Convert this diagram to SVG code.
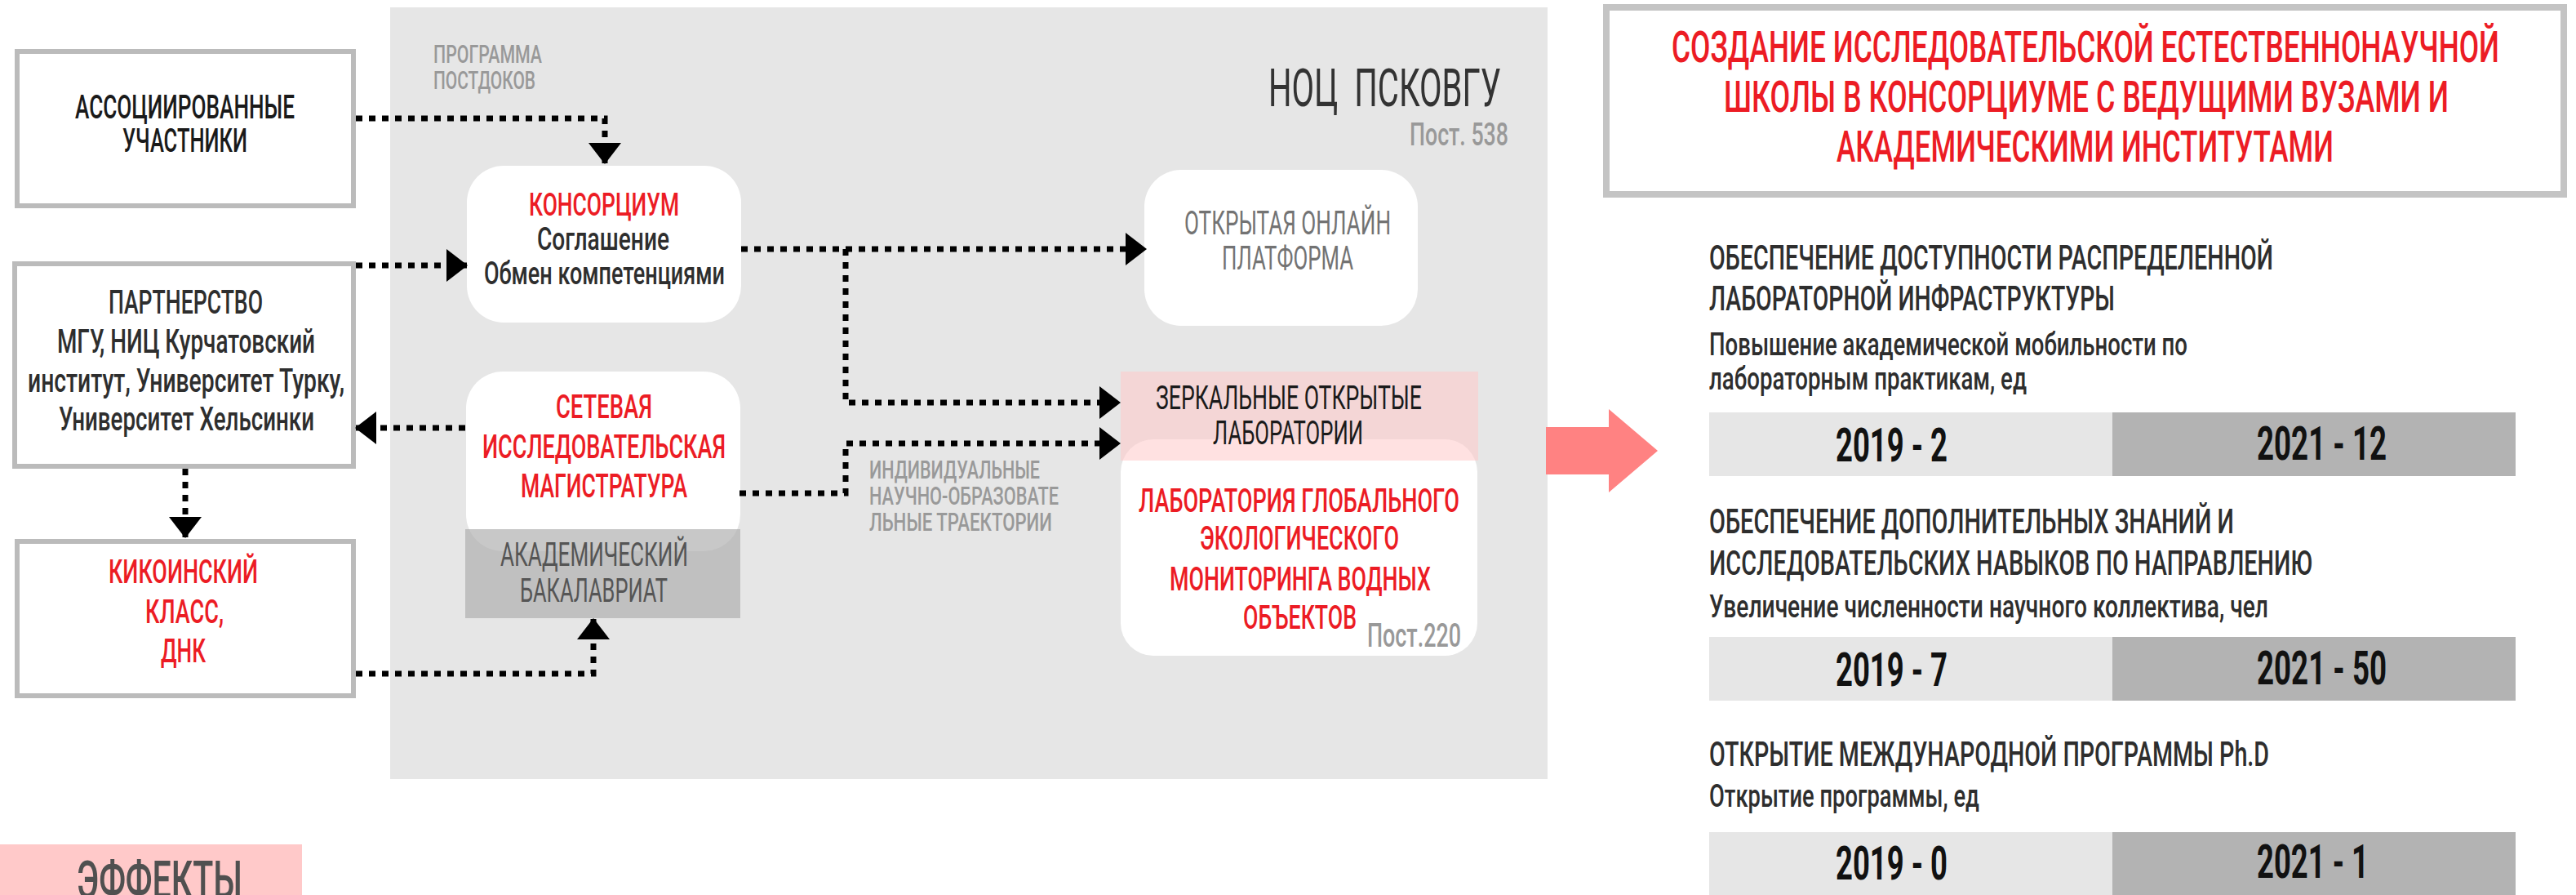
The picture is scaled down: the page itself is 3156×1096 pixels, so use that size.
<svg xmlns="http://www.w3.org/2000/svg" width="3156" height="1096" viewBox="0 0 3156 1096">
<style>
text{font-family:Roboto,"Liberation Sans",sans-serif;}
.red{fill:#ec1c24;font-weight:500;}
.dk{fill:#1a1a1a;font-weight:500;}
.dk2{fill:#2e2e2e;font-weight:500;}
.gr{fill:#999999;font-weight:500;}
.mid{fill:#555555;font-weight:400;}
.lt{fill:#737373;font-weight:400;}
.num{fill:#111111;font-weight:700;}
.box{fill:#ffffff;stroke:#bbbbbb;stroke-width:6;}
.rbox{fill:#ffffff;}
.con{fill:none;stroke:#000000;stroke-width:7;stroke-dasharray:8 8;}
</style>
<defs>
<marker id="ah" markerUnits="userSpaceOnUse" viewBox="0 0 26 40" markerWidth="26" markerHeight="40" refX="25" refY="20" orient="auto">
<path d="M0,0 L26,20 L0,40 Z" fill="#000000"/>
</marker>
</defs>

<rect id="panel" x="478" y="9" width="1418" height="945" fill="#e6e6e6"/>

<g id="label-postdoc">
<text class="gr" x="531" y="77" font-size="32" textLength="133" lengthAdjust="spacingAndGlyphs">ПРОГРАММА</text>
<text class="gr" x="531" y="109" font-size="32" textLength="125" lengthAdjust="spacingAndGlyphs">ПОСТДОКОВ</text>
</g>

<g id="title-noc">
<text x="1554" y="130" font-size="65" xml:space="preserve" textLength="285" lengthAdjust="spacingAndGlyphs" style="fill:#333333;font-weight:400">НОЦ  ПСКОВГУ</text>
<text class="gr" x="1727" y="178" font-size="39" textLength="121" lengthAdjust="spacingAndGlyphs">Пост. 538</text>
</g>

<g id="assoc">
<rect class="box" x="21" y="63" width="412" height="189"/>
<text class="dk" x="92" y="145" font-size="40" textLength="269" lengthAdjust="spacingAndGlyphs">АССОЦИИРОВАННЫЕ</text>
<text class="dk" x="150" y="186" font-size="40" textLength="153" lengthAdjust="spacingAndGlyphs">УЧАСТНИКИ</text>
</g>

<g id="partner">
<rect class="box" x="18" y="323" width="415" height="248"/>
<text class="dk2" x="133" y="384" font-size="40" textLength="189" lengthAdjust="spacingAndGlyphs">ПАРТНЕРСТВО</text>
<text class="dk2" x="70" y="432" font-size="40" textLength="316" lengthAdjust="spacingAndGlyphs">МГУ, НИЦ Курчатовский</text>
<text class="dk2" x="34" y="480" font-size="40" textLength="388" lengthAdjust="spacingAndGlyphs">институт, Университет Турку,</text>
<text class="dk2" x="72" y="527" font-size="40" textLength="313" lengthAdjust="spacingAndGlyphs">Университет Хельсинки</text>
</g>

<g id="kikoin">
<rect class="box" x="21" y="663" width="412" height="189"/>
<text class="red" x="133" y="714" font-size="41" textLength="183" lengthAdjust="spacingAndGlyphs">КИКОИНСКИЙ</text>
<text class="red" x="178" y="763" font-size="41" textLength="96" lengthAdjust="spacingAndGlyphs">КЛАСС,</text>
<text class="red" x="197" y="811" font-size="41" textLength="55" lengthAdjust="spacingAndGlyphs">ДНК</text>
</g>

<g id="consortium">
<rect class="rbox" x="572" y="203" width="336" height="192" rx="45"/>
<text class="red" x="648" y="264" font-size="39" textLength="184" lengthAdjust="spacingAndGlyphs">КОНСОРЦИУМ</text>
<text class="dk2" x="658" y="306" font-size="39" textLength="162" lengthAdjust="spacingAndGlyphs">Соглашение</text>
<text class="dk2" x="593" y="348" font-size="39" textLength="295" lengthAdjust="spacingAndGlyphs">Обмен компетенциями</text>
</g>

<g id="platform">
<rect class="rbox" x="1402" y="208" width="335" height="191" rx="45"/>
<text class="lt" x="1451" y="287" font-size="40" textLength="253" lengthAdjust="spacingAndGlyphs">ОТКРЫТАЯ ОНЛАЙН</text>
<text class="lt" x="1497" y="330" font-size="40" textLength="161" lengthAdjust="spacingAndGlyphs">ПЛАТФОРМА</text>
</g>

<g id="master">
<rect class="rbox" x="571" y="455" width="336" height="220" rx="45"/>
<text class="red" x="681" y="512" font-size="40" textLength="118" lengthAdjust="spacingAndGlyphs">СЕТЕВАЯ</text>
<text class="red" x="591" y="561" font-size="40" textLength="298" lengthAdjust="spacingAndGlyphs">ИССЛЕДОВАТЕЛЬСКАЯ</text>
<text class="red" x="638" y="609" font-size="40" textLength="204" lengthAdjust="spacingAndGlyphs">МАГИСТРАТУРА</text>
</g>

<g id="bachelor">
<rect x="570" y="648" width="337" height="109" fill="#aeaeae" fill-opacity="0.68"/>
<text class="mid" x="613" y="693" font-size="40" textLength="230" lengthAdjust="spacingAndGlyphs">АКАДЕМИЧЕСКИЙ</text>
<text class="mid" x="637" y="737" font-size="40" textLength="181" lengthAdjust="spacingAndGlyphs">БАКАЛАВРИАТ</text>
</g>

<g id="lab">
<rect class="rbox" x="1373" y="538" width="437" height="265" rx="40"/>
<text class="red" x="1395" y="627" font-size="40" textLength="393" lengthAdjust="spacingAndGlyphs">ЛАБОРАТОРИЯ ГЛОБАЛЬНОГО</text>
<text class="red" x="1470" y="673" font-size="40" textLength="244" lengthAdjust="spacingAndGlyphs">ЭКОЛОГИЧЕСКОГО</text>
<text class="red" x="1433" y="723" font-size="40" textLength="320" lengthAdjust="spacingAndGlyphs">МОНИТОРИНГА ВОДНЫХ</text>
<text class="red" x="1523" y="770" font-size="40" textLength="139" lengthAdjust="spacingAndGlyphs">ОБЪЕКТОВ</text>
<text class="gr" x="1675" y="792" font-size="41" textLength="115" lengthAdjust="spacingAndGlyphs">Пост.220</text>
</g>

<g id="mirror">
<rect x="1373" y="455" width="438" height="109" fill="#ffc9c9" fill-opacity="0.55"/>
<text class="dk" x="1416" y="501" font-size="41" style="font-weight:400" textLength="326" lengthAdjust="spacingAndGlyphs">ЗЕРКАЛЬНЫЕ ОТКРЫТЫЕ</text>
<text class="dk" x="1486" y="544" font-size="41" style="font-weight:400" textLength="184" lengthAdjust="spacingAndGlyphs">ЛАБОРАТОРИИ</text>
</g>

<g id="connectors">
<path class="con" d="M436,145 H741 V200" marker-end="url(#ah)"/>
<path class="con" d="M436,325 H572" marker-end="url(#ah)"/>
<path class="con" d="M570,524 H436" marker-end="url(#ah)"/>
<path class="con" d="M227,574 V658" marker-end="url(#ah)"/>
<path class="con" d="M436,825 H727 V758" marker-end="url(#ah)"/>
<path class="con" d="M908,305 H1404" marker-end="url(#ah)"/>
<path class="con" d="M1036,305 V493 H1372" marker-end="url(#ah)"/>
<path class="con" d="M906,604 H1036 V543 H1372" marker-end="url(#ah)"/>
<text class="gr" x="1065" y="586" font-size="32" textLength="209" lengthAdjust="spacingAndGlyphs">ИНДИВИДУАЛЬНЫЕ</text>
<text class="gr" x="1065" y="618" font-size="32" textLength="232" lengthAdjust="spacingAndGlyphs">НАУЧНО-ОБРАЗОВАТЕ</text>
<text class="gr" x="1065" y="650" font-size="32" textLength="224" lengthAdjust="spacingAndGlyphs">ЛЬНЫЕ ТРАЕКТОРИИ</text>
</g>

<g id="effects">
<rect x="0" y="1034" width="370" height="62" fill="#ffc9c9"/>
<text x="94" y="1100" font-size="64" textLength="203" lengthAdjust="spacingAndGlyphs" style="fill:#505050;font-weight:500">ЭФФЕКТЫ</text>
</g>

<g id="big-arrow">
<polygon points="1894,523 1971,523 1971,501 2031,552 1971,603 1971,581 1894,581" fill="#ff8282"/>
</g>

<g id="goal">
<rect x="1968" y="9" width="1173" height="229" fill="#ffffff" stroke="#c4c4c4" stroke-width="8"/>
<text class="red" x="2048" y="76" font-size="54" textLength="1014" lengthAdjust="spacingAndGlyphs">СОЗДАНИЕ ИССЛЕДОВАТЕЛЬСКОЙ ЕСТЕСТВЕННОНАУЧНОЙ</text>
<text class="red" x="2112" y="137" font-size="54" textLength="888" lengthAdjust="spacingAndGlyphs">ШКОЛЫ В КОНСОРЦИУМЕ С ВЕДУЩИМИ ВУЗАМИ И</text>
<text class="red" x="2250" y="198" font-size="54" textLength="609" lengthAdjust="spacingAndGlyphs">АКАДЕМИЧЕСКИМИ ИНСТИТУТАМИ</text>
</g>

<g id="effect-1">
<text class="dk2" x="2094" y="330" font-size="42" textLength="691" lengthAdjust="spacingAndGlyphs">ОБЕСПЕЧЕНИЕ ДОСТУПНОСТИ РАСПРЕДЕЛЕННОЙ</text>
<text class="dk2" x="2094" y="380" font-size="42" textLength="497" lengthAdjust="spacingAndGlyphs">ЛАБОРАТОРНОЙ ИНФРАСТРУКТУРЫ</text>
<text class="dk2" x="2094" y="435" font-size="38" textLength="586" lengthAdjust="spacingAndGlyphs">Повышение академической мобильности по</text>
<text class="dk2" x="2094" y="477" font-size="38" textLength="389" lengthAdjust="spacingAndGlyphs">лабораторным практикам, ед</text>
<rect x="2094" y="505" width="494" height="78" fill="#e6e6e6"/>
<rect x="2588" y="505" width="494" height="78" fill="#b3b3b3"/>
<text class="num" x="2249" y="565" font-size="57" textLength="137" lengthAdjust="spacingAndGlyphs">2019 - 2</text>
<text class="num" x="2765" y="563" font-size="57" textLength="159" lengthAdjust="spacingAndGlyphs">2021 - 12</text>
</g>

<g id="effect-2">
<text class="dk2" x="2094" y="653" font-size="42" textLength="643" lengthAdjust="spacingAndGlyphs">ОБЕСПЕЧЕНИЕ ДОПОЛНИТЕЛЬНЫХ ЗНАНИЙ И</text>
<text class="dk2" x="2094" y="704" font-size="42" textLength="739" lengthAdjust="spacingAndGlyphs">ИССЛЕДОВАТЕЛЬСКИХ НАВЫКОВ ПО НАПРАВЛЕНИЮ</text>
<text class="dk2" x="2094" y="756" font-size="38" textLength="685" lengthAdjust="spacingAndGlyphs">Увеличение численности научного коллектива, чел</text>
<rect x="2094" y="780" width="494" height="78" fill="#e6e6e6"/>
<rect x="2588" y="780" width="494" height="78" fill="#b3b3b3"/>
<text class="num" x="2249" y="840" font-size="57" textLength="137" lengthAdjust="spacingAndGlyphs">2019 - 7</text>
<text class="num" x="2765" y="838" font-size="57" textLength="159" lengthAdjust="spacingAndGlyphs">2021 - 50</text>
</g>

<g id="effect-3">
<text class="dk2" x="2094" y="938" font-size="42" textLength="686" lengthAdjust="spacingAndGlyphs">ОТКРЫТИЕ МЕЖДУНАРОДНОЙ ПРОГРАММЫ Ph.D</text>
<text class="dk2" x="2094" y="988" font-size="38" textLength="331" lengthAdjust="spacingAndGlyphs">Открытие программы, ед</text>
<rect x="2094" y="1019" width="494" height="77" fill="#e6e6e6"/>
<rect x="2588" y="1019" width="494" height="77" fill="#b3b3b3"/>
<text class="num" x="2249" y="1077" font-size="57" textLength="137" lengthAdjust="spacingAndGlyphs">2019 - 0</text>
<text class="num" x="2765" y="1075" font-size="57" textLength="137" lengthAdjust="spacingAndGlyphs">2021 - 1</text>
</g>
</svg>
